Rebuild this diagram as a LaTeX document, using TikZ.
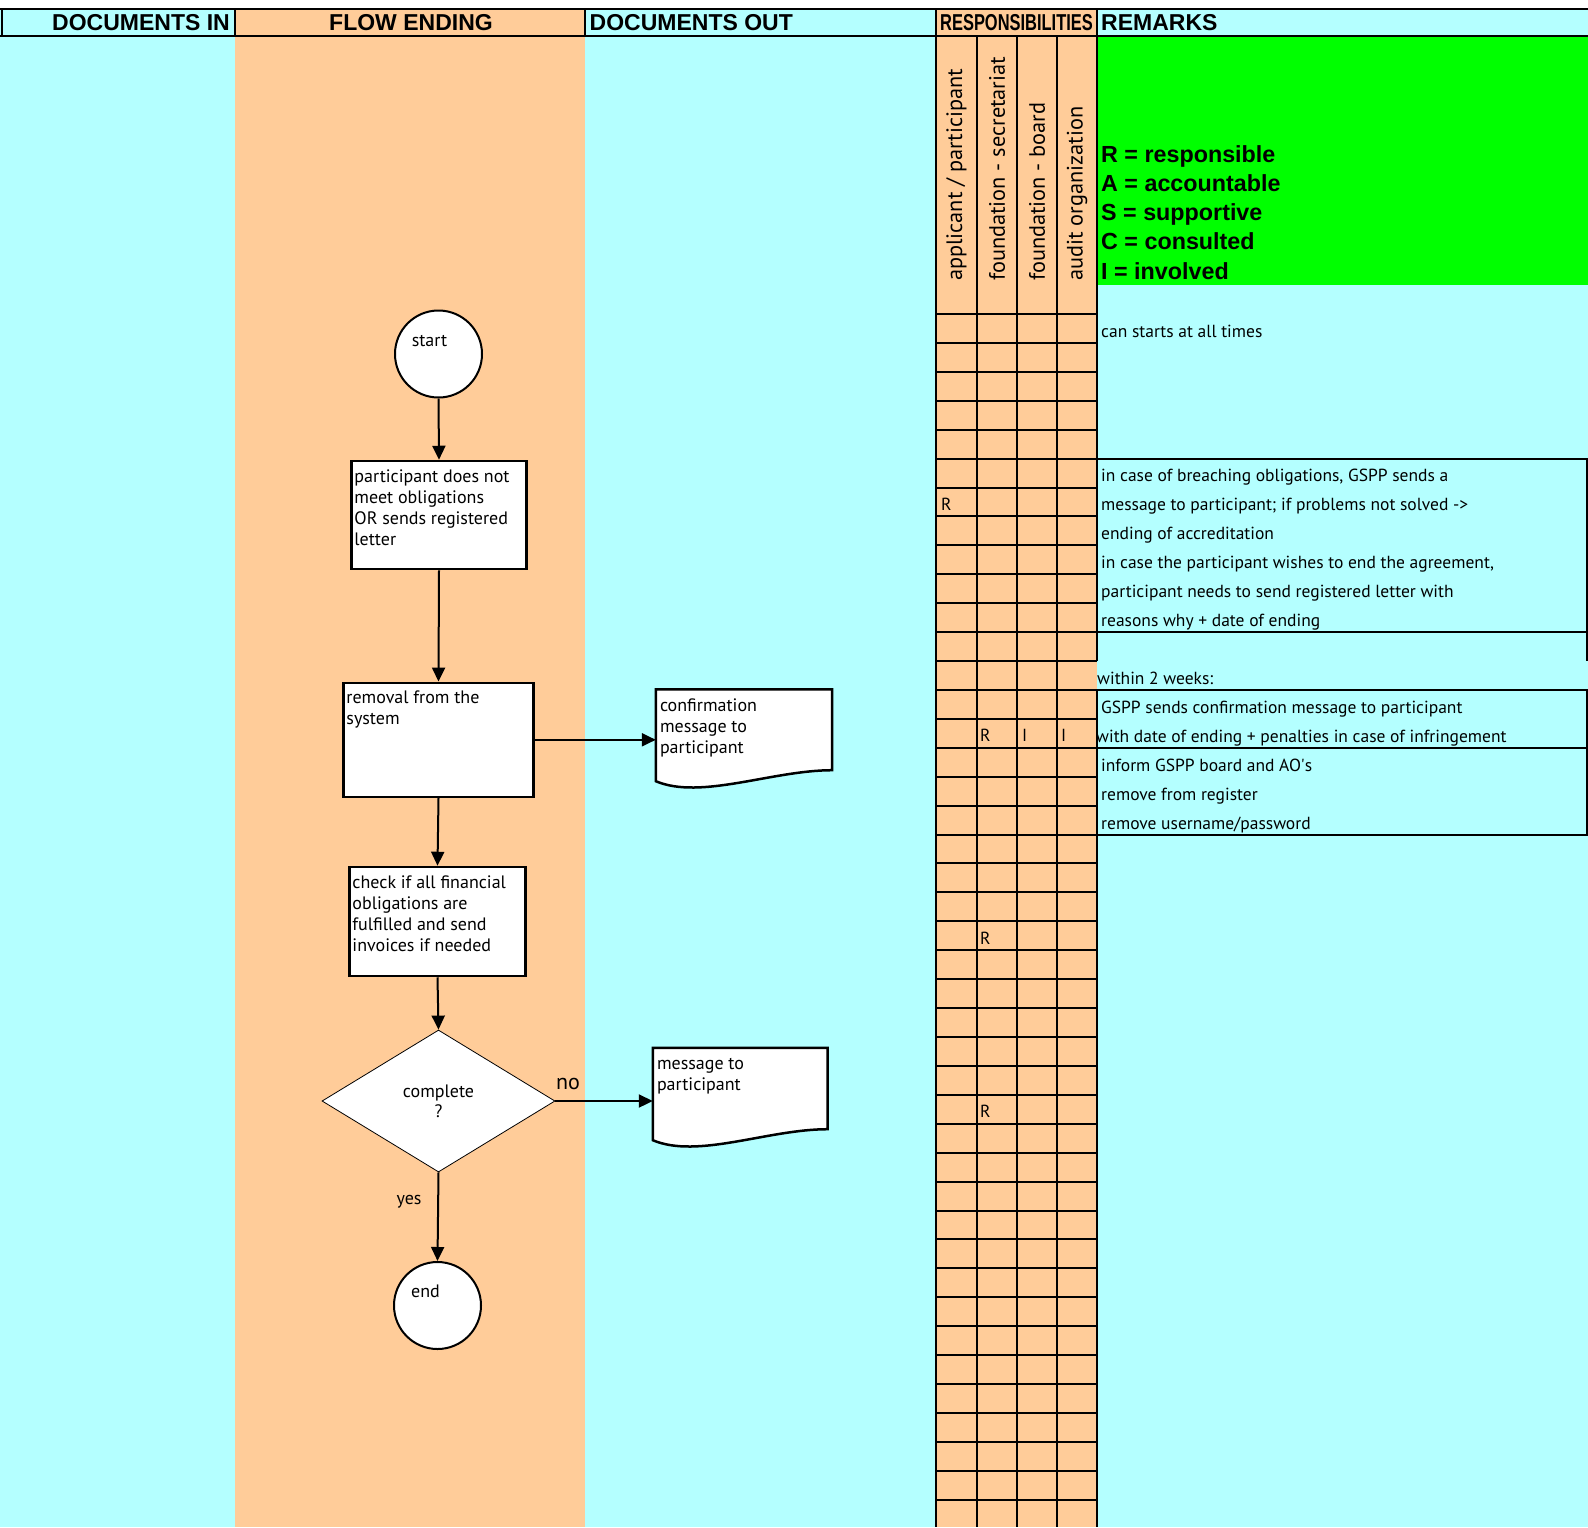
\documentclass[tikz,border=0pt]{standalone}
\usepackage{fontspec}
\setmainfont{PT Sans}
\newfontfamily\headfont{Liberation Sans}
\usepackage{graphicx}
\usetikzlibrary{arrows.meta,shapes.geometric}
\definecolor{sheetcyan}{RGB}{180,255,255}
\definecolor{sheetorange}{RGB}{255,204,153}
\definecolor{sheetgreen}{RGB}{0,255,0}
\tikzset{
	flowbox/.style={draw=black, line width=2.5pt, fill=white, rectangle, inner sep=0pt},
	flowtext/.style={anchor=north west, inner sep=0pt, align=left, font=\fontsize{18}{21}\selectfont},
	terminal/.style={draw=black, line width=2pt, fill=white, circle, minimum size=87pt, inner sep=0pt},
	decision/.style={draw=black, line width=0.8pt, fill=white, diamond, minimum width=233pt, minimum height=142pt, inner sep=0pt, align=center, font=\fontsize{18}{20}\selectfont},
	docline/.style={draw=black, line width=2.5pt, fill=white},
	flowarrow/.style={line width=2pt, -{Triangle[length=14pt,width=13pt]}},
	gridline/.style={line width=2pt},
	headtext/.style={inner sep=0pt, font=\headfont\bfseries\fontsize{23}{24}\selectfont},
	legend/.style={anchor=base west, inner sep=0pt, font=\headfont\bfseries\fontsize{23.3}{25}\selectfont},
	rolelabel/.style={rotate=90, anchor=west, inner sep=0pt, font=\fontsize{22.3}{24}\selectfont},
	remark/.style={anchor=base west, inner sep=0pt, font=\fontsize{17.5}{20}\selectfont},
	raci/.style={anchor=base west, inner sep=0pt, font=\fontsize{17.5}{20}\selectfont}
}
% document symbol: flat top, wavy bottom
\def\docshape(#1){\draw[docline] (#1.north west) -- (#1.north east) -- (#1.south east) .. controls +(-60,0) and +(45,19) .. ([yshift=-11pt]#1.south west) -- cycle;}

\begin{document}
\begin{tikzpicture}[x=1pt,y=-1pt]
			%%%%% START %%%%%
			\useasboundingbox (0,0) rectangle (1588,1527);
			
			% columns
			\fill[sheetcyan] (0,9) rectangle (1588,1527);
			\fill[sheetorange] (235,9) rectangle (585,1527);
			\fill[sheetorange] (936,9) rectangle (1097,1527);
			\fill[sheetgreen] (1098,37) rectangle (1588,285);
			
			% header
			\draw[gridline] (0,9) -- (1588,9);
			\draw[gridline] (0,36) -- (1588,36);
			\draw[gridline] (2,9) -- (2,36);
			\draw[gridline] (235,9) -- (235,36);
			\draw[gridline] (585,9) -- (585,36);
			\node[headtext, anchor=east] (hdin) at (230,22.5) {DOCUMENTS IN};
			\node[headtext] (hdflow) at (411,22.5) {FLOW ENDING};
			\node[headtext, anchor=west] (hdout) at (589.5,22.5) {DOCUMENTS OUT};
			\node[headtext] (hdresp) at (1016.5,22.5) {\scalebox{0.715}[1]{RESPONSIBILITIES}};
			\node[headtext, anchor=west] (hdrem) at (1101,22.5) {REMARKS};
			
			% responsibilities grid
			\draw[gridline] (936,9) -- (936,1527);
			\draw[gridline] (977,36) -- (977,1527);
			\draw[gridline] (1017,36) -- (1017,1527);
			\draw[gridline] (1057,36) -- (1057,1527);
			\draw[gridline] (1097,9) -- (1097,661);
			\draw[gridline] (1097,690) -- (1097,1527);
			\foreach \k in {0,...,41}
				\draw[gridline] (936,{314+28.92*\k}) -- (1097,{314+28.92*\k});
			
			\node[rolelabel] (applicant) at (956.5,281) {applicant / participant};
			\node[rolelabel] (secretariat) at (997,281) {foundation - secretariat};
			\node[rolelabel] (board) at (1037,281) {foundation - board};
			\node[rolelabel] (audit) at (1077,281) {audit organization};
			
			\node[raci] (r-breach) at (941,510.5) {R};
			\node[raci] (r-confirm) at (980,741.8) {R};
			\node[raci] (i-board) at (1022,741.8) {I};
			\node[raci] (i-audit) at (1061,741.8) {I};
			\node[raci] (r-check) at (980,944.2) {R};
			\node[raci] (r-notice) at (980,1117.7) {R};
			
			% legend
			\node[legend] (leg-r) at (1101,162) {R = responsible};
			\node[legend] (leg-a) at (1101,191) {A = accountable};
			\node[legend] (leg-s) at (1101,220) {S = supportive};
			\node[legend] (leg-c) at (1101,249.5) {C = consulted};
			\node[legend] (leg-i) at (1101,279) {I = involved};
			
			% remarks
			\draw[gridline] (1097,458.6) -- (1587,458.6) -- (1587,661);
			\draw[gridline] (1097,632.1) -- (1587,632.1);
			\draw[gridline] (1097,690) -- (1587,690) -- (1587,834.6) -- (1097,834.6);
			\draw[gridline] (1097,747.8) -- (1587,747.8);
			
			\node[remark] (rm-start) at (1101,337.5) {can starts at all times};
			\node[remark] (rm-breach1) at (1101,481.5) {in case of breaching obligations, GSPP sends a};
			\node[remark] (rm-breach2) at (1101,510.5) {message to participant; if problems not solved ->};
			\node[remark] (rm-breach3) at (1101,539.3) {ending of accreditation};
			\node[remark] (rm-wish1) at (1101,568.5) {in case the participant wishes to end the agreement,};
			\node[remark] (rm-wish2) at (1101,597.5) {participant needs to send registered letter with};
			\node[remark] (rm-wish3) at (1101,626.5) {reasons why + date of ending};
			\node[remark] (rm-weeks) at (1097,684.5) {within 2 weeks:};
			\node[remark] (rm-confirm1) at (1101,713.5) {GSPP sends confirmation message to participant};
			\node[remark] (rm-confirm2) at (1096,742) {with date of ending + penalties in case of infringement};
			\node[remark] (rm-inform) at (1101,771) {inform GSPP board and AO\textquotesingle s};
			\node[remark] (rm-register) at (1101,800) {remove from register};
			\node[remark] (rm-password) at (1101,829) {remove username/password};
			
			% flow
			\node[terminal] (start) at (438.5,354) {};
			\node[flowtext, anchor=center] (start-t) at ([shift={(-9,-13)}]start.center) {start};
			
			\node[flowbox, minimum width=175pt, minimum height=108pt] (meet) at (439,515) {};
			\node[flowtext] (meet-t) at ([shift={(4,10)}]meet.north west) {participant does not\\meet obligations\\OR sends registered\\letter};
			
			\node[flowbox, minimum width=190pt, minimum height=114pt] (removal) at (438.5,739.8) {};
			\node[flowtext] (removal-t) at ([shift={(4,9.5)}]removal.north west) {removal from the\\system};
			
			\node[flowbox, minimum width=176pt, minimum height=109pt] (check) at (437.5,921.5) {};
			\node[flowtext] (check-t) at ([shift={(4,10)}]check.north west) {check if all financial\\obligations are\\fulfilled and send\\invoices if needed};
			
			\node[decision] (complete) at (438.5,1101) {complete\\?};
			
			\node[terminal] (finish) at (437.5,1305.5) {};
			\node[flowtext, anchor=center] (finish-t) at ([shift={(-12,-14)}]finish.center) {end};
			
			\node[inner sep=0pt, minimum width=176pt, minimum height=80.5pt] (confirm) at (744,729.75) {};
			\docshape(confirm)
			\node[flowtext] (confirm-t) at ([shift={(4,9.5)}]confirm.north west) {confirmation\\message to\\participant};
			
			\node[inner sep=0pt, minimum width=174.5pt, minimum height=81pt] (notice) at (740.25,1088.5) {};
			\docshape(notice)
			\node[flowtext] (notice-t) at ([shift={(4,10)}]notice.north west) {message to\\participant};
			
			\draw[flowarrow] (start.south) -- (meet.north);
			\draw[flowarrow] (meet.south) -- (removal.north);
			\draw[flowarrow] (removal.east) -- (removal.east -| confirm.west);
			\draw[flowarrow] (removal.south) -- (check.north);
			\draw[flowarrow] (check.south) -- (complete.north);
			\draw[flowarrow] (complete.east) -- (complete.east -| notice.west);
			\draw[flowarrow] (complete.south) -- (finish.north);
			
			\node[flowtext, anchor=center, font=\fontsize{22}{24}\selectfont] (no) at (568,1084) {no};
			\node[flowtext, anchor=center] (yes) at (409,1202) {yes};
			
			%%%%% END %%%%%
\end{tikzpicture}
\end{document}
